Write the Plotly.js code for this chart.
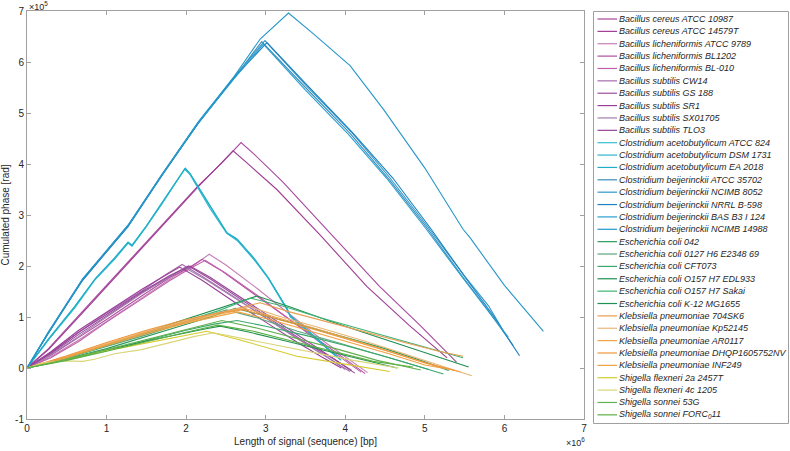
<!DOCTYPE html>
<html>
<head>
<meta charset="utf-8">
<script src="https://cdn.plot.ly/plotly-3.0.1.min.js"></script>
<style>html,body{margin:0;padding:0;background:#fff;}#chart{width:790px;height:451px;}</style>
</head>
<body>
<div id="chart"></div>
<script>
// Units: x in 1e6 bp, y in 1e5 rad
const strainNames = [
  "Bacillus cereus ATCC 10987","Bacillus cereus ATCC 14579T","Bacillus licheniformis ATCC 9789",
  "Bacillus licheniformis BL1202","Bacillus licheniformis BL-010","Bacillus subtilis CW14",
  "Bacillus subtilis GS 188","Bacillus subtilis SR1","Bacillus subtilis SX01705","Bacillus subtilis TLO3",
  "Clostridium acetobutylicum ATCC 824","Clostridium acetobutylicum DSM 1731","Clostridium acetobutylicum EA 2018",
  "Clostridium beijerinckii ATCC 35702","Clostridium beijerinckii NCIMB 8052","Clostridium beijerinckii NRRL B-598",
  "Clostridium beijerinckii BAS B3 I 124","Clostridium beijerinckii NCIMB 14988",
  "Escherichia coli 042","Escherichia coli 0127 H6 E2348 69","Escherichia coli CFT073",
  "Escherichia coli O157 H7 EDL933","Escherichia coli O157 H7 Sakai","Escherichia coli K-12 MG1655",
  "Klebsiella pneumoniae 704SK6","Klebsiella pneumoniae Kp52145","Klebsiella pneumoniae AR0117",
  "Klebsiella pneumoniae DHQP1605752NV","Klebsiella pneumoniae INF249",
  "Shigella flexneri 2a 2457T","Shigella flexneri 4c 1205","Shigella sonnei 53G","Shigella sonnei FORC<sub>0</sub>11"
];
const lineColors = [
  "#a8489f","#9e3c92","#c47fb6","#b0509f","#bf5fab","#a66cae","#9a4c9c","#9a3e98","#a47cae","#98449a",
  "#35bfd1","#2cb6cb","#20aec6",
  "#3b8fba","#2f98c9","#1f80bf","#2a9ecf","#2696c8",
  "#2a9a5c","#5aa67c","#38a86c","#1f8f50","#3fb277","#1e9052",
  "#e99d4e","#ebb577","#f0a347","#f0963a","#f0a040",
  "#d6ca2c","#dad477","#62b04f","#5cb042"
];

// Bacillus
const x_bce10987 = [0,0.27,0.75,1.27,1.75,2.15,2.45,2.69,2.85,3.22,3.8,4.43,4.95,5.40];
const y_bce10987 = [0,0.38,1.2,2.08,2.9,3.57,4.02,4.42,4.2,3.64,2.66,1.6,0.82,0.11];
const x_bce14579 = [0,0.27,0.75,1.27,1.75,2.15,2.45,2.59,2.75,3.14,3.7,4.27,4.8,5.28];
const y_bce14579 = [0,0.36,1.17,2.06,2.88,3.55,4.03,4.26,4.04,3.5,2.58,1.6,0.84,0.2];
const x_bli9789 = [0,0.3,0.65,1.0,1.45,1.85,2.1,2.29,2.5,2.9,3.31,3.75,4.28];
const y_bli9789 = [0,0.22,0.55,0.92,1.38,1.8,2.02,2.23,2.02,1.55,1.04,0.5,-0.09];
const x_bli1202 = [0,0.3,0.65,1.0,1.45,1.8,2.05,2.2,2.45,2.85,3.3,3.8,4.25];
const y_bli1202 = [0,0.25,0.6,0.95,1.42,1.78,1.98,2.13,1.9,1.45,0.95,0.4,-0.11];
const x_bli010 = [0,0.3,0.65,1.0,1.45,1.8,2.05,2.24,2.5,2.9,3.3,3.75,4.2];
const y_bli010 = [0,0.2,0.52,0.9,1.36,1.72,1.95,2.11,1.86,1.42,0.95,0.42,-0.08];
const x_bsuCW14 = [0,0.3,0.65,1.0,1.45,1.75,1.95,2.2,2.6,3.0,3.31,3.7,4.06];
const y_bsuCW14 = [0,0.3,0.7,1.08,1.52,1.84,2.03,1.8,1.4,0.98,0.66,0.28,-0.07];
const x_bsuGS188 = [0,0.3,0.65,1.0,1.45,1.8,2.03,2.3,2.7,3.1,3.5,3.85,4.12];
const y_bsuGS188 = [0,0.28,0.66,1.02,1.48,1.8,2.0,1.75,1.33,0.92,0.5,0.18,-0.1];
const x_bsuSR1 = [0,0.3,0.65,1.0,1.45,1.72,1.92,2.2,2.6,3.0,3.4,3.7,3.95];
const y_bsuSR1 = [0,0.32,0.74,1.1,1.55,1.8,1.98,1.72,1.3,0.9,0.5,0.22,0.0];
const x_bsuSX = [0,0.3,0.65,1.0,1.45,1.75,1.98,2.25,2.65,3.05,3.45,3.75,4.0];
const y_bsuSX = [0,0.26,0.62,1.0,1.47,1.76,1.97,1.73,1.33,0.93,0.53,0.24,-0.03];
const x_bsuTLO3 = [0,0.3,0.65,1.0,1.45,1.8,2.05,2.3,2.7,3.1,3.5,3.8,4.08];
const y_bsuTLO3 = [0,0.3,0.7,1.05,1.5,1.82,2.0,1.78,1.37,0.96,0.56,0.25,-0.05];

// Clostridium acetobutylicum
const x_cac824 = [0,0.27,0.6,0.86,1.1,1.27,1.32,1.5,1.69,1.86,1.985,2.05,2.13,2.3,2.51,2.64,2.85,3.03,3.27,3.31,3.55,3.81,3.94];
const y_cac824 = [0,0.56,1.2,1.75,2.15,2.46,2.4,2.78,3.22,3.62,3.91,3.8,3.6,3.15,2.65,2.52,2.15,1.77,1.15,1.01,0.7,0.33,0.16];
const x_cac1731 = [0,0.27,0.6,0.86,1.1,1.27,1.32,1.5,1.69,1.86,1.98,2.05,2.13,2.3,2.51,2.64,2.85,3.03,3.27,3.31,3.55,3.81,3.95];
const y_cac1731 = [0,0.55,1.18,1.74,2.13,2.45,2.39,2.77,3.2,3.6,3.9,3.79,3.58,3.13,2.64,2.5,2.13,1.76,1.14,1.0,0.69,0.32,0.15];
const x_cac2018 = [0,0.27,0.6,0.86,1.1,1.27,1.32,1.5,1.69,1.86,1.99,2.05,2.13,2.3,2.51,2.64,2.85,3.03,3.27,3.31,3.55,3.81,3.94];
const y_cac2018 = [0,0.57,1.21,1.76,2.16,2.47,2.41,2.79,3.23,3.63,3.92,3.81,3.61,3.16,2.66,2.53,2.16,1.78,1.16,1.02,0.71,0.34,0.17];

// Clostridium beijerinckii
const x_cbe35702 = [0,0.27,0.7,1.27,1.7,2.15,2.6,2.95,3.5,4.06,4.55,5.03,5.48,5.8,6.11];
const y_cbe35702 = [0,0.7,1.72,2.78,3.78,4.8,5.68,6.4,5.5,4.6,3.7,2.74,1.78,1.12,0.44];
const x_cbe8052 = [0,0.27,0.7,1.27,1.7,2.15,2.6,2.99,3.5,4.08,4.55,5.05,5.5,5.8,5.99];
const y_cbe8052 = [0,0.69,1.74,2.8,3.8,4.81,5.7,6.42,5.55,4.62,3.75,2.74,1.8,1.22,0.72];
const x_cbe598 = [0,0.27,0.7,1.27,1.7,2.15,2.6,3.015,3.5,4.1,4.6,5.08,5.52,5.85,6.19];
const y_cbe598 = [0,0.68,1.73,2.77,3.79,4.79,5.69,6.38,5.58,4.6,3.72,2.72,1.75,1.05,0.24];
const x_cbeBAS = [0,0.27,0.7,1.27,1.7,2.15,2.6,2.97,3.5,4.04,4.52,5.0,5.46,5.75,6.05];
const y_cbeBAS = [0,0.7,1.75,2.79,3.8,4.8,5.67,6.35,5.45,4.58,3.72,2.76,1.8,1.2,0.6];
const x_cbe14988 = [0,0.27,0.7,1.27,1.7,2.15,2.6,2.93,3.286,3.6,4.06,4.48,5.0,5.48,5.57,6.0,6.49];
const y_cbe14988 = [0,0.71,1.75,2.8,3.81,4.82,5.71,6.45,6.96,6.55,5.93,5.07,3.92,2.72,2.55,1.62,0.72];

// Escherichia coli
const x_eco042 = [0,0.5,1.0,1.5,2.0,2.3,2.62,3.0,3.5,4.0,4.5,5.0,5.3];
const y_eco042 = [0,0.18,0.38,0.62,0.85,1.0,1.17,1.02,0.82,0.6,0.38,0.12,-0.05];
const x_eco0127 = [0,0.5,1.0,1.5,2.0,2.3,2.51,2.9,3.4,3.9,4.5,5.05];
const y_eco0127 = [0,0.2,0.42,0.65,0.9,1.05,1.14,0.98,0.72,0.5,0.22,-0.03];
const x_ecoCFT = [0,0.5,1.0,1.5,2.0,2.35,2.64,3.0,3.5,4.0,4.6,5.233];
const y_ecoCFT = [0,0.16,0.34,0.54,0.74,0.86,0.93,0.82,0.64,0.44,0.18,-0.118];
const x_ecoEDL = [0,0.5,1.0,1.5,2.0,2.4,2.7,2.89,3.3,3.8,4.3,4.9,5.55];
const y_ecoEDL = [0,0.2,0.45,0.7,0.95,1.15,1.3,1.41,1.2,0.92,0.66,0.36,0.02];
const x_ecoSakai = [0,0.5,1.0,1.5,2.0,2.4,2.65,2.81,3.2,3.7,4.2,4.8,5.48];
const y_ecoSakai = [0,0.19,0.43,0.68,0.93,1.12,1.27,1.37,1.22,0.98,0.76,0.5,0.2];
const x_ecoK12 = [0,0.5,1.0,1.5,2.0,2.25,2.43,2.8,3.2,3.6,4.1,4.65];
const y_ecoK12 = [0,0.17,0.35,0.53,0.7,0.77,0.82,0.7,0.55,0.4,0.2,0.0];

// Klebsiella pneumoniae
const x_kpn704 = [0,0.5,1.0,1.5,2.0,2.5,2.93,3.3,3.73,4.25,4.77,5.2,5.48];
const y_kpn704 = [0,0.22,0.46,0.7,0.92,1.12,1.28,1.1,0.92,0.7,0.49,0.32,0.23];
const x_kpn52145 = [0,0.5,1.0,1.5,2.0,2.4,2.8,3.2,3.7,4.2,4.7,5.2,5.59];
const y_kpn52145 = [0,0.23,0.48,0.72,0.93,1.08,1.2,1.0,0.78,0.55,0.3,0.05,-0.15];
const x_kpnAR = [0,0.5,1.0,1.5,2.0,2.4,2.75,3.2,3.7,4.2,4.7,5.1,5.45];
const y_kpnAR = [0,0.22,0.46,0.7,0.9,1.05,1.16,0.96,0.74,0.5,0.26,0.06,-0.08];
const x_kpnDHQP = [0,0.5,1.0,1.5,2.0,2.4,2.7,3.1,3.6,4.1,4.6,5.0,5.38];
const y_kpnDHQP = [0,0.24,0.5,0.74,0.95,1.08,1.15,0.98,0.76,0.53,0.3,0.1,-0.05];
const x_kpnINF = [0,0.5,1.0,1.5,2.0,2.35,2.65,3.05,3.55,4.05,4.55,5.0,5.32];
const y_kpnINF = [0,0.2,0.44,0.67,0.88,1.0,1.1,0.95,0.73,0.5,0.28,0.06,-0.03];

// Shigella
const x_sfl2a = [0,0.4,0.8,1.2,1.6,2.0,2.26,2.7,3.0,3.39,3.9,4.56];
const y_sfl2a = [0,0.14,0.28,0.4,0.52,0.63,0.72,0.54,0.4,0.23,0.1,-0.07];
const x_sfl4c = [0,0.2,0.45,0.7,0.85,1.1,1.44,1.8,2.11,2.345,2.9,3.5,4.1,4.67];
const y_sfl4c = [0,0.1,0.14,0.13,0.17,0.28,0.36,0.5,0.62,0.69,0.52,0.34,0.15,0.0];
const x_sso53G = [0,0.5,1.0,1.5,2.0,2.45,2.9,3.4,3.9,4.4,4.95];
const y_sso53G = [0,0.17,0.36,0.56,0.76,0.93,0.78,0.58,0.37,0.15,-0.04];
const x_ssoFORC = [0,0.5,1.0,1.5,2.0,2.4,2.85,3.35,3.85,4.35,4.85];
const y_ssoFORC = [0,0.15,0.33,0.52,0.7,0.84,0.72,0.52,0.32,0.13,0.02];

const seriesX = [x_bce10987,x_bce14579,x_bli9789,x_bli1202,x_bli010,x_bsuCW14,x_bsuGS188,x_bsuSR1,x_bsuSX,x_bsuTLO3,
  x_cac824,x_cac1731,x_cac2018,x_cbe35702,x_cbe8052,x_cbe598,x_cbeBAS,x_cbe14988,
  x_eco042,x_eco0127,x_ecoCFT,x_ecoEDL,x_ecoSakai,x_ecoK12,
  x_kpn704,x_kpn52145,x_kpnAR,x_kpnDHQP,x_kpnINF,x_sfl2a,x_sfl4c,x_sso53G,x_ssoFORC];
const seriesY = [y_bce10987,y_bce14579,y_bli9789,y_bli1202,y_bli010,y_bsuCW14,y_bsuGS188,y_bsuSR1,y_bsuSX,y_bsuTLO3,
  y_cac824,y_cac1731,y_cac2018,y_cbe35702,y_cbe8052,y_cbe598,y_cbeBAS,y_cbe14988,
  y_eco042,y_eco0127,y_ecoCFT,y_ecoEDL,y_ecoSakai,y_ecoK12,
  y_kpn704,y_kpn52145,y_kpnAR,y_kpnDHQP,y_kpnINF,y_sfl2a,y_sfl4c,y_sso53G,y_ssoFORC];

const xTicks = [0,1,2,3,4,5,6,7];
const yTicks = [-1,0,1,2,3,4,5,6,7];

const traces = seriesX.map((xs, i) => ({
  type: 'scatter', mode: 'lines', x: xs, y: seriesY[i],
  name: strainNames[i], line: {color: lineColors[i], width: 1.1}, showlegend: false
}));

// geometry (px)
const L = 27, R = 584, T = 11, B = 419;
const px2x = p => (p - L) / (R - L);
const px2y = p => (B - p) / (B - T);

const shapes = [{
  type: 'rect', xref: 'paper', yref: 'paper',
  x0: px2x(593.5), x1: px2x(788.5), y0: px2y(423.5), y1: px2y(11.5),
  line: {color: '#a0a0a0', width: 1}, fillcolor: 'rgba(0,0,0,0)'
}];
const annotations = [];
strainNames.forEach((nm, i) => {
  const yy = 19 + 12.37 * i;
  shapes.push({type: 'line', xref: 'paper', yref: 'paper',
    x0: px2x(597.5), x1: px2x(617), y0: px2y(yy), y1: px2y(yy),
    line: {color: lineColors[i], width: 1.2}});
  annotations.push({xref: 'paper', yref: 'paper', x: px2x(618), y: px2y(yy),
    xanchor: 'left', yanchor: 'middle', showarrow: false, borderpad: 0,
    text: '<i>' + nm + '</i>', font: {size: 9, color: '#262626', family: 'Liberation Sans, Arial, sans-serif'}});
});
annotations.push({xref: 'paper', yref: 'paper', x: px2x(28), y: px2y(6), xanchor: 'left', yanchor: 'middle',
  showarrow: false, borderpad: 0, text: '\u00d710<sup>5</sup>', font: {size: 9, color: '#262626'}});
annotations.push({xref: 'paper', yref: 'paper', x: px2x(586), y: px2y(442), xanchor: 'right', yanchor: 'middle',
  showarrow: false, borderpad: 0, text: '\u00d710<sup>6</sup>', font: {size: 9, color: '#262626'}});

const axisCommon = {
  showgrid: false, zeroline: false, showline: true, linecolor: '#a0a0a0', linewidth: 1,
  mirror: 'ticks', ticks: 'inside', ticklen: 4, tickcolor: '#a0a0a0', tickwidth: 1,
  tickfont: {size: 10, color: '#262626'}, automargin: false
};

const layout = {
  width: 790, height: 451,
  margin: {l: L, r: 790 - R, t: T, b: 451 - B, pad: 0},
  paper_bgcolor: '#fff', plot_bgcolor: '#fff',
  font: {family: 'Liberation Sans, Arial, sans-serif', size: 10, color: '#262626'},
  showlegend: false,
  xaxis: Object.assign({}, axisCommon, {range: [0, 7], tickvals: xTicks, ticktext: xTicks.map(String),
    title: {text: 'Length of signal (sequence) [bp]', font: {size: 10, color: '#262626'}, standoff: 4}}),
  yaxis: Object.assign({}, axisCommon, {range: [-1, 7], tickvals: yTicks, ticktext: yTicks.map(String),
    title: {text: 'Cumulated phase [rad]', font: {size: 10, color: '#262626'}, standoff: 4}}),
  shapes: shapes, annotations: annotations
};

Plotly.newPlot('chart', traces, layout, {displayModeBar: false, staticPlot: true});
</script>
</body>
</html>
